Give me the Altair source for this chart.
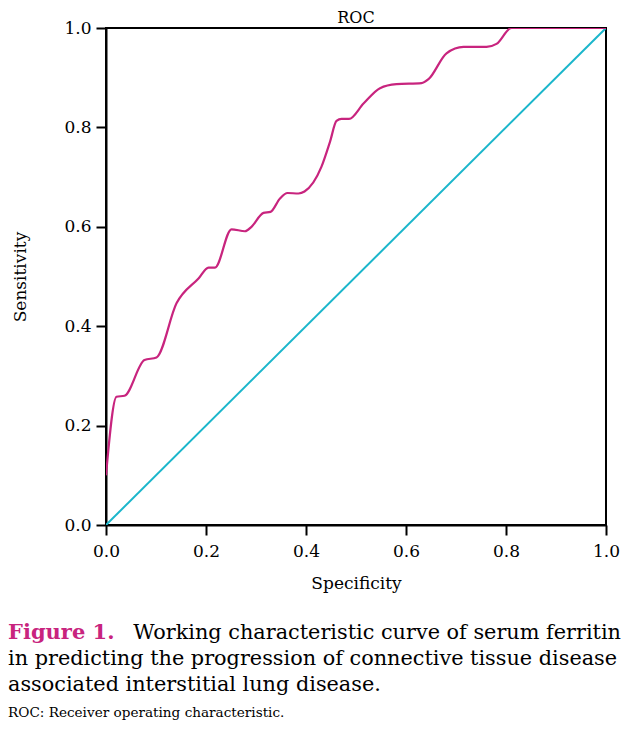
import altair as alt
import pandas as pd

# ROC curve points (specificity axis, sensitivity)
roc_x = [0.0, 0.021, 0.037, 0.077, 0.101, 0.141, 0.185, 0.205, 0.218, 0.251,
         0.278, 0.291, 0.315, 0.329, 0.348, 0.363, 0.385, 0.397, 0.431, 0.448,
         0.461, 0.471, 0.486, 0.515, 0.548, 0.581, 0.631, 0.645, 0.681, 0.715,
         0.761, 0.781, 0.811, 1.0]
roc_y = [0.10, 0.258, 0.260, 0.332, 0.337, 0.446, 0.496, 0.518, 0.518, 0.595,
         0.591, 0.600, 0.628, 0.630, 0.657, 0.668, 0.667, 0.671, 0.721, 0.771,
         0.813, 0.817, 0.817, 0.848, 0.879, 0.887, 0.889, 0.897, 0.949, 0.962,
         0.962, 0.968, 1.0, 1.0]

ref_x = [0.0, 1.0]
ref_y = [0.0, 1.0]

tick_values = [0.0, 0.2, 0.4, 0.6, 0.8, 1.0]

chart_title = "ROC"
x_title = "Specificity"
y_title = "Sensitivity"

caption_bold = "Figure 1."
caption_line1 = "Working characteristic curve of serum ferritin"
caption_line2 = "in predicting the progression of connective tissue disease"
caption_line3 = "associated interstitial lung disease."
caption_note = "ROC: Receiver operating characteristic."

MAGENTA = "#C8247E"
CYAN = "#1BB6CB"
FONT = "DejaVu Serif"

W, H = 500, 497

roc_df = pd.DataFrame({"x": roc_x, "y": roc_y})
ref_df = pd.DataFrame({"x": ref_x, "y": ref_y})

xscale = alt.Scale(domain=[0, 1], nice=False)
yscale = alt.Scale(domain=[0, 1], nice=False)

xaxis = alt.Axis(values=tick_values, format=".1f", title=x_title,
                 titleY=58, titleBaseline="middle", labelPadding=8,
                 labelFlush=False)
yaxis = alt.Axis(values=tick_values, format=".1f", title=y_title,
                 titleX=-86, titleY=H / 2, titleAngle=-90,
                 titleBaseline="middle", titleAlign="center", labelPadding=5,
                 labelFlush=False)

ref_line = alt.Chart(ref_df).mark_line(color=CYAN, strokeWidth=2, clip=True).encode(
    x=alt.X("x:Q", scale=xscale, axis=xaxis),
    y=alt.Y("y:Q", scale=yscale, axis=yaxis),
)

roc_line = alt.Chart(roc_df).mark_line(color=MAGENTA, strokeWidth=2.2,
                                      interpolate="monotone", clip=True).encode(
    x=alt.X("x:Q", scale=xscale),
    y=alt.Y("y:Q", scale=yscale),
)


def text_layer(txt, x, y, size=20, color="black", weight="normal",
               align="left", baseline="alphabetic"):
    return alt.Chart(pd.DataFrame({"t": [txt]})).mark_text(
        align=align, baseline=baseline, font=FONT, fontSize=size,
        color=color, fontWeight=weight,
    ).encode(text="t:N", x=alt.value(x), y=alt.value(y))


texts = [
    text_layer(chart_title, W / 2, -5, size=16, align="center"),
    text_layer(caption_bold, -98, 611, size=21, color=MAGENTA, weight="bold"),
    text_layer(caption_line1, 515, 611, size=20.8, align="right"),
    text_layer(caption_line2, -98, 637, size=20.8),
    text_layer(caption_line3, -98, 663, size=20.8),
    text_layer(caption_note, -98, 689, size=13.6),
]

chart = alt.layer(ref_line, roc_line, *texts).properties(
    width=W, height=H,
    padding={"left": 98, "top": 20, "right": 15, "bottom": 197},
    autosize=alt.AutoSizeParams(type="none"),
).configure_view(
    stroke="black", strokeWidth=2
).configure_axis(
    grid=False, domainColor="black", domainWidth=2, tickColor="black",
    tickWidth=2, tickSize=10, labelFont=FONT, labelFontSize=17, labelColor="black",
    titleFont=FONT, titleFontSize=17, titleFontWeight="normal", titleColor="black",
)

chart.save("out.html", embed_options={"renderer": "svg", "actions": False})
